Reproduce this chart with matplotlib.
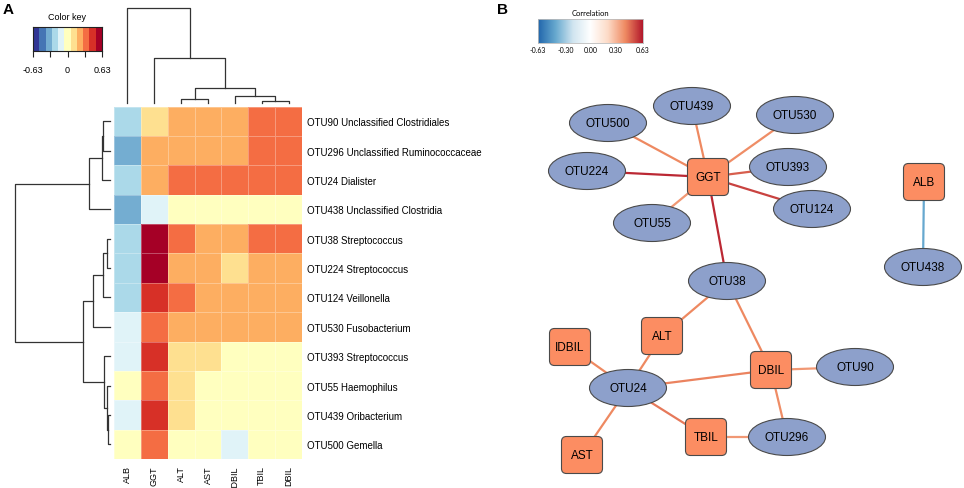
import numpy as np
import matplotlib
matplotlib.use('Agg')
import matplotlib.pyplot as plt
from matplotlib.colors import ListedColormap, BoundaryNorm, LinearSegmentedColormap, Normalize
from matplotlib.patches import Ellipse, FancyBboxPatch

plt.rcParams['font.family'] = ['Liberation Sans', 'DejaVu Sans']

W, H = 964, 489

# ---------------- data: panel A ----------------
row_labels = ['OTU90 Unclassified Clostridiales', 'OTU296 Unclassified Ruminococcaceae',
              'OTU24 Dialister', 'OTU438 Unclassified Clostridia', 'OTU38 Streptococcus',
              'OTU224 Streptococcus', 'OTU124 Veillonella', 'OTU530 Fusobacterium',
              'OTU393 Streptococcus', 'OTU55 Haemophilus', 'OTU439 Oribacterium',
              'OTU500 Gemella']
col_labels = ['ALB', 'GGT', 'ALT', 'AST', 'IDBIL', 'TBIL', 'DBIL']

corr = np.array([
    [-0.22, 0.12, 0.23, 0.23, 0.23, 0.33, 0.33],
    [-0.33, 0.24, 0.24, 0.24, 0.24, 0.34, 0.34],
    [-0.22, 0.25, 0.34, 0.34, 0.34, 0.34, 0.34],
    [-0.34, -0.10, 0.00, 0.00, 0.00, 0.00, 0.00],
    [-0.22, 0.57, 0.33, 0.24, 0.24, 0.33, 0.33],
    [-0.22, 0.56, 0.24, 0.24, 0.12, 0.24, 0.24],
    [-0.22, 0.45, 0.33, 0.24, 0.24, 0.24, 0.24],
    [-0.10, 0.35, 0.24, 0.24, 0.24, 0.24, 0.24],
    [-0.10, 0.44, 0.12, 0.12, 0.00, 0.00, 0.00],
    [0.00, 0.33, 0.12, 0.00, 0.00, 0.00, 0.00],
    [-0.10, 0.44, 0.12, 0.00, 0.00, 0.00, 0.00],
    [0.00, 0.33, 0.00, 0.00, -0.10, 0.00, 0.00],
])

# merges: (left id, right id, height); ids >= n refer to earlier merges
col_linkage = [(5, 6, 0.026), (2, 3, 0.042), (4, 7, 0.074), (8, 9, 0.158),
               (1, 10, 0.474), (0, 11, 1.0)]
row_linkage = [(10, 11, 2.0), (4, 5, 2.7), (9, 12, 3.0), (8, 14, 6.0), (0, 1, 6.7),
               (13, 6, 6.7), (16, 2, 8.3), (17, 7, 17.3), (18, 3, 20.7),
               (19, 15, 27.3), (20, 21, 95.0)]

key_colors = ['#313695', '#4575B4', '#74ADD1', '#ABD9E9', '#E0F3F8', '#FFFFBF',
              '#FEE090', '#FDAE61', '#F46D43', '#D73027', '#A50026']
key_limit = 0.63

# ---------------- data: panel B ----------------
otu_nodes = ['OTU439', 'OTU500', 'OTU530', 'OTU224', 'OTU393', 'OTU124', 'OTU55',
             'OTU38', 'OTU438', 'OTU24', 'OTU90', 'OTU296']
var_nodes = ['GGT', 'ALB', 'ALT', 'IDBIL', 'DBIL', 'TBIL', 'AST']
edges = [('GGT', 'OTU224', 0.60), ('GGT', 'OTU38', 0.60), ('GGT', 'OTU124', 0.55),
         ('GGT', 'OTU393', 0.50), ('GGT', 'OTU439', 0.42), ('GGT', 'OTU500', 0.42),
         ('GGT', 'OTU530', 0.41), ('GGT', 'OTU55', 0.38), ('ALB', 'OTU438', -0.42),
         ('OTU38', 'ALT', 0.42), ('OTU38', 'DBIL', 0.42), ('OTU24', 'ALT', 0.42),
         ('OTU24', 'IDBIL', 0.42), ('OTU24', 'AST', 0.42), ('OTU24', 'DBIL', 0.43),
         ('OTU24', 'TBIL', 0.45), ('DBIL', 'OTU90', 0.38), ('DBIL', 'OTU296', 0.41),
         ('TBIL', 'OTU296', 0.38)]
cb_ticks = [-0.63, -0.30, 0.00, 0.30, 0.63]

# network layout (pixel positions of nodes)
layout = {'OTU439': (692, 107), 'OTU500': (608, 124), 'OTU530': (795, 116),
          'OTU224': (587, 172), 'GGT': (708, 178), 'OTU393': (788, 168),
          'OTU124': (812, 210), 'OTU55': (652, 224), 'OTU38': (727, 282),
          'ALB': (924, 183), 'OTU438': (923, 268), 'ALT': (662, 337),
          'IDBIL': (570, 348), 'OTU24': (628, 389), 'DBIL': (771, 371),
          'OTU90': (855, 368), 'TBIL': (706, 438), 'OTU296': (787, 438),
          'AST': (582, 456)}


def rect(x0, y0, x1, y1):
    return [x0 / W, 1 - y1 / H, (x1 - x0) / W, (y1 - y0) / H]


def dendro_segments(linkage, n):
    pos = {i: i + 0.5 for i in range(n)}
    hgt = {i: 0.0 for i in range(n)}
    segs = []
    for k, (a, b, h) in enumerate(linkage):
        pa, pb = pos[a], pos[b]
        segs.append(([pa, pa, pb, pb], [hgt[a], h, h, hgt[b]]))
        pos[n + k] = (pa + pb) / 2
        hgt[n + k] = h
    return segs


fig = plt.figure(figsize=(W / 100, H / 100), dpi=100)

HM_L, HM_R, HM_T, HM_B = 114, 302, 107.5, 460
nrow, ncol = corr.shape

# heatmap
cmap_key = ListedColormap(key_colors)
bounds = np.linspace(-key_limit, key_limit, len(key_colors) + 1)
norm_key = BoundaryNorm(bounds, cmap_key.N)
ax_hm = fig.add_axes(rect(HM_L, HM_T, HM_R, HM_B))
ax_hm.pcolormesh(np.arange(ncol + 1), np.arange(nrow + 1), corr, cmap=cmap_key,
                 norm=norm_key, edgecolors=(1, 1, 1, 0.3), linewidth=0.4)
ax_hm.set_xlim(0, ncol)
ax_hm.set_ylim(nrow, 0)
for s in ax_hm.spines.values():
    s.set_visible(False)
ax_hm.yaxis.tick_right()
ax_hm.set_yticks(np.arange(nrow) + 0.5)
ax_hm.set_yticklabels(row_labels, fontsize=7)
ax_hm.set_xticks(np.arange(ncol) + 0.5)
ax_hm.set_xticklabels(col_labels, fontsize=6.5, rotation=90)
ax_hm.tick_params(axis='y', length=0, pad=3.6)
ax_hm.tick_params(axis='x', length=0, pad=4.5)

# column dendrogram
ax_cd = fig.add_axes(rect(HM_L, 9, HM_R, 104))
for xs, ys in dendro_segments(col_linkage, ncol):
    ax_cd.plot(xs, ys, color='#333333', lw=0.9, clip_on=False)
ax_cd.set_xlim(0, ncol)
ax_cd.set_ylim(0, 1.0)
ax_cd.axis('off')

# row dendrogram
ax_rd = fig.add_axes(rect(15, HM_T, 110, HM_B))
for xs, ys in dendro_segments(row_linkage, nrow):
    ax_rd.plot(ys, xs, color='#333333', lw=0.9, clip_on=False)
ax_rd.set_xlim(95, 0)
ax_rd.set_ylim(nrow, 0)
ax_rd.axis('off')

# color key
ax_key = fig.add_axes(rect(33, 28, 102, 52))
mids = (bounds[:-1] + bounds[1:]) / 2
ax_key.pcolormesh(bounds, [0, 1], mids[None, :], cmap=cmap_key, norm=norm_key)
ax_key.set_xlim(-key_limit, key_limit)
ax_key.set_ylim(0, 1)
ax_key.set_yticks([])
ax_key.set_xticks([-key_limit, -key_limit / 2, 0, key_limit / 2, key_limit])
ax_key.set_xticklabels(['-0.63', '', '0', '', '0.63'], fontsize=6.5)
ax_key.tick_params(axis='x', length=4.3, width=0.8, pad=5.5, color='#222222')
for s in ax_key.spines.values():
    s.set_linewidth(0.8)
    s.set_color('#222222')
ax_key.set_title('Color key', fontsize=6.5, pad=6)

# ---------------- panel B ----------------
cmap_net = LinearSegmentedColormap.from_list(
    'corr', ['#2166AC', '#67A9CF', '#D1E5F0', '#FFFFFF', '#FDDBC7', '#EF8A62', '#B2182B'])
norm_net = Normalize(-0.63, 0.63)

ax_net = fig.add_axes(rect(520, 60, 964, 489))
ax_net.set_xlim(520, 964)
ax_net.set_ylim(489, 60)
ax_net.axis('off')

for a, b, r in edges:
    (x1, y1), (x2, y2) = layout[a], layout[b]
    ax_net.plot([x1, x2], [y1, y2], color=cmap_net(norm_net(r)), lw=1.6,
                zorder=1, solid_capstyle='butt')

EW, EH = 77, 37
BW, BH, BR = 41, 37, 5
for name in otu_nodes:
    x, y = layout[name]
    ax_net.add_patch(Ellipse((x, y), EW, EH, facecolor='#8DA0CB',
                             edgecolor='#4a4a4a', lw=0.8, zorder=2))
    ax_net.text(x, y, name, fontsize=8.5, ha='center', va='center', zorder=3)
for name in var_nodes:
    x, y = layout[name]
    ax_net.add_patch(FancyBboxPatch((x - BW / 2 + BR, y - BH / 2 + BR), BW - 2 * BR,
                                    BH - 2 * BR, boxstyle=f'round,pad={BR}',
                                    facecolor='#FC8D62', edgecolor='#4a4a4a',
                                    lw=0.8, zorder=2))
    ax_net.text(x, y, name, fontsize=8.5, ha='center', va='center', zorder=3)

# correlation colorbar
ax_cb = fig.add_axes(rect(538, 20, 643, 44))
grad = np.linspace(-0.63, 0.63, 256)[None, :]
ax_cb.imshow(grad, cmap=cmap_net, norm=norm_net, aspect='auto',
             extent=(-0.63, 0.63, 0, 1))
ax_cb.set_xlim(-0.63, 0.63)
ax_cb.set_yticks([])
ax_cb.set_xticks(cb_ticks)
ax_cb.set_xticklabels([f'{t:.2f}' for t in cb_ticks], fontsize=5, family=['Lato', 'DejaVu Sans'])
ax_cb.tick_params(axis='x', length=0, pad=2)
for s in ax_cb.spines.values():
    s.set_linewidth(0.6)
    s.set_color('#BBBBBB')
ax_cb.set_title('Correlation', fontsize=5.5, pad=3, family=['Lato', 'DejaVu Sans'])

fig.text(3 / W, 1 - 3 / H, 'A', fontsize=11, fontweight='bold', ha='left', va='top')
fig.text(497 / W, 1 - 3 / H, 'B', fontsize=11, fontweight='bold', ha='left', va='top')

fig.savefig('out.png', dpi=100)
